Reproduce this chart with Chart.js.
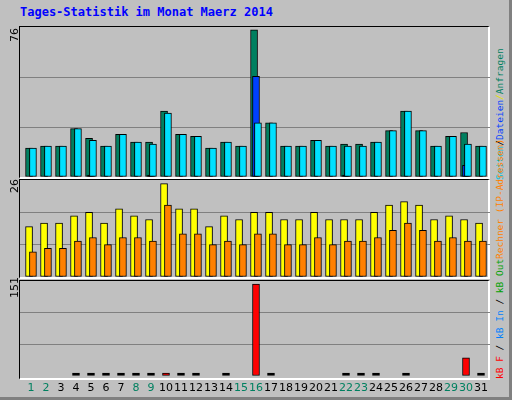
<!DOCTYPE html>
<html>
<head>
<meta charset="utf-8">
<script src="https://cdn.jsdelivr.net/npm/chart.js@4/dist/chart.umd.min.js"></script>
<style>
  body { margin: 0; }
  #frame { position: relative; width: 509px; height: 397px; background: #C0C0C0;
    border-right: 3px solid #808080; border-bottom: 3px solid #808080; overflow: hidden;
    font-family: "DejaVu Sans Mono", monospace; }
  .panel { position: absolute; left: 19px; width: 471px; box-sizing: border-box;
    border-top: 1px solid #000; border-left: 1px solid #000;
    border-right: 2px solid #fff; border-bottom: 2px solid #fff; }
  .cv { position: absolute; left: 20px; }
  .title { position: absolute; left: 20px; top: 5px; color: #0000FF; font-weight: bold; font-size: 12px; }
  .ymax { position: absolute; left: 8px; font-size: 11px; transform-origin: left top;
    transform: rotate(-90deg); font-family: "DejaVu Sans", sans-serif; }
  .leg { position: absolute; left: 494px; font-size: 9.5px; white-space: nowrap;
    transform-origin: left top; transform: rotate(-90deg); }
</style>
</head>
<body>
<div id="frame">
  <div class="title">Tages-Statistik im Monat Maerz 2014</div>
  <div class="panel" style="top:26px;height:153px"></div>
  <div class="panel" style="top:179px;height:100px"></div>
  <div class="panel" style="top:280px;height:100px"></div>
  <div class="cv" style="top:27px;width:470px;height:150px"><canvas id="c1"></canvas></div>
  <div class="cv" style="top:180px;width:470px;height:97px"><canvas id="c2"></canvas></div>
  <div class="cv" style="top:281px;width:470px;height:117px"><canvas id="c3"></canvas></div>
  <div class="ymax" style="top:42px">76</div>
  <div class="ymax" style="top:193px">26</div>
  <div class="ymax" style="top:298px">151</div>
  <div class="leg" style="top:180px"><span style="color:#00C0E0">Seiten</span>/<span style="color:#0040FF">Dateien</span><span style="color:#E0E000">/</span><span style="color:#008060">Anfragen</span></div>
  <div class="leg" style="top:259px;color:#FF8000">Rechner (IP-Adressen)</div>
  <div class="leg" style="top:379px"><span style="color:#FF0000">kB F</span> / <span style="color:#0080FF">kB In</span> / <span style="color:#00A000">kB Out</span></div>
</div>
<script>
const days = ['1','2','3','4','5','6','7','8','9','10','11','12','13','14','15','16',
  '17','18','19','20','21','22','23','24','25','26','27','28','29','30','31'];
const weekend = [1,2,8,9,15,16,22,23,29,30];
const anfragen = [15,16,16,25,20,16,22,18,18,34,22,21,15,18,16,76,28,16,16,19,16,17,17,18,24,34,24,16,21,23,16];
const dateien = [0,0,0,0,1,0,0,0,1,0,0,0,0,0,0,52,0,0,0,0,0,1,0,0,0,0,0,0,0,6,0];
const seiten = [15,16,16,25,19,16,22,18,17,33,22,21,15,18,16,28,28,16,16,19,16,16,16,18,24,34,24,16,21,17,16];
const besuche = [14,15,15,17,18,15,19,17,16,26,19,19,14,17,16,18,18,16,16,18,16,16,16,18,20,21,20,16,17,16,15];
const rechner = [7,8,8,10,11,9,11,11,10,20,12,12,9,10,9,12,12,9,9,11,9,10,10,11,13,15,13,10,11,10,10];
const kbF = [0,0,0,1,1,1,1,1,1,3,1,1,0,1,0,151,1,0,0,0,0,1,1,1,0,1,0,0,0,30,1];

const pts = (arr, off) => arr.map((v, i) => ({ x: i + 1 + off, y: v === 0 ? null : v }));
const ds = (arr, off, color) => ({ data: pts(arr, off),
  backgroundColor: c => (c.raw && c.raw.y <= 1) ? '#000' : color,
  borderColor: '#000', borderWidth: 1, borderSkipped: false, barThickness: 7, grouped: false });

function makeChart(id, datasets, max, showX) {
  new Chart(document.getElementById(id), {
    type: 'bar',
    data: { datasets },
    options: {
      responsive: true, maintainAspectRatio: false, animation: false,
      plugins: { legend: { display: false }, tooltip: { enabled: false } },
      layout: { padding: 0 },
      scales: {
        x: { type: 'linear', min: 0.267, max: 31.6, offset: false, display: showX,
          border: { display: false }, grid: { display: false, drawTicks: false },
          afterBuildTicks: s => { s.ticks = days.map(d => ({ value: +d })); },
          afterFit: s => { if (showX) { s.paddingLeft = 0; s.paddingRight = 0; s.height = 22; } },
          ticks: { padding: 6, autoSkip: false, maxRotation: 0,
            font: { family: 'DejaVu Sans', size: 11 },
            color: c => weekend.includes(c.tick.value) ? '#008060' : '#000',
            callback: v => days[v - 1] } },
        y: { min: 0, max, border: { display: false },
          afterBuildTicks: s => { s.ticks = [0, max / 3, 2 * max / 3, max].map(v => ({ value: v })); },
          grid: { drawTicks: false, color: c => (c.index === 1 || c.index === 2) ? '#808080' : 'rgba(0,0,0,0)' },
          ticks: { display: false } }
      }
    }
  });
}

const kbSet = ds(kbF, 0, '#FF0000');
kbSet.minBarLength = 3;

makeChart('c1', [ds(seiten, 0.13, '#00E0FF'), ds(dateien, 0, '#0040FF'), ds(anfragen, -0.13, '#008060')], 77.5, false);
makeChart('c2', [ds(rechner, 0.13, '#FF8000'), ds(besuche, -0.13, '#FFFF00')], 27, false);
makeChart('c3', [kbSet], 156, true);
</script>
</body>
</html>
